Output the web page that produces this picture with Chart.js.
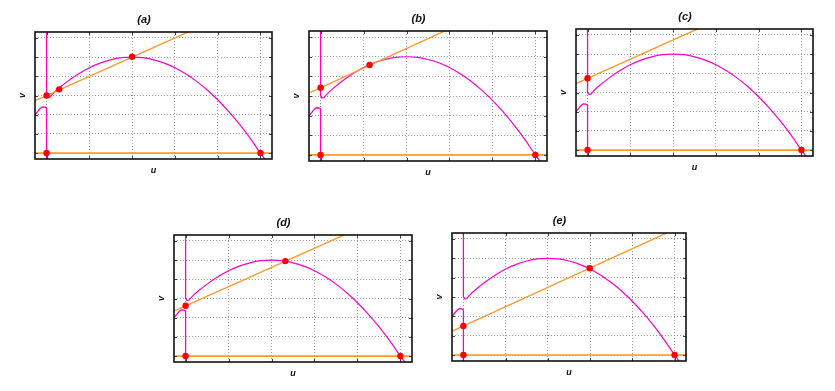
<!DOCTYPE html>
<html lang="en">
<head>
<meta charset="UTF-8" />
<title>Nullclines (a)-(e)</title>
<script src="https://cdn.jsdelivr.net/npm/chart.js"></script>
<style>
  body {
    margin: 0;
    background: #fff;
    width: 835px;
    height: 391px;
    overflow: hidden;
    position: relative;
  }
  canvas {
    position: absolute;
  }
</style>
</head>
<body>
<canvas id="pa"></canvas>
<canvas id="pb"></canvas>
<canvas id="pc"></canvas>
<canvas id="pd"></canvas>
<canvas id="pe"></canvas>
<script>
const panelNames = ['(a)', '(b)', '(c)', '(d)', '(e)'];
const uTicks = [0, 0.2, 0.4, 0.6, 0.8, 1.0];
const vTicks = [0, 0.1, 0.2, 0.3, 0.4, 0.5, 0.6];

// magenta nullcline (same in every panel)
const humpU = [0.015, 0.03, 0.06, 0.1, 0.15, 0.2, 0.25, 0.3, 0.35, 0.4, 0.45, 0.5, 0.55, 0.6, 0.65, 0.7, 0.75, 0.8, 0.85, 0.9, 0.95, 1.0, 1.03];
const humpV = [0.29, 0.31, 0.34, 0.375, 0.413, 0.445, 0.469, 0.486, 0.497, 0.5, 0.497, 0.486, 0.469, 0.445, 0.413, 0.375, 0.33, 0.278, 0.219, 0.153, 0.08, 0, -0.045];
const upperBranch = [[0, 0.7], [0, 0.302], [0.005, 0.291], [0.015, 0.29]];
const lowerBranch = [[-0.06, 0.19], [-0.045, 0.212], [-0.03, 0.232], [-0.02, 0.24], [-0.008, 0.239], [0, 0.234], [0, -0.05]];

// orange nullclines
const baseLine = [[-0.06, 0], [1.06, 0]];
const slopeLines = [
  [[-0.06, 0.27], [0.67, 0.635]],
  [[-0.06, 0.312], [0.6, 0.642]],
  [[-0.06, 0.344], [0.53, 0.639]],
  [[-0.06, 0.232], [0.75, 0.637]],
  [[-0.06, 0.12], [0.97, 0.635]]
];

// equilibria (red dots)
const equilibria = [
  [[0, 0.3], [0.059, 0.332], [0.4, 0.502], [0, 0], [1, 0]],
  [[0, 0.342], [0.228, 0.458], [0, 0], [1, 0]],
  [[0, 0.374], [0, 0], [1, 0]],
  [[0, 0.262], [0.464, 0.495], [0, 0], [1, 0]],
  [[0, 0.15], [0.598, 0.449], [0, 0], [1, 0]]
];

// plot boxes on the page: left, top, width, height
const boxes = [
  [35, 32, 238, 127],
  [309, 31, 239, 130],
  [576, 29, 238, 127],
  [174, 235, 239, 127],
  [452, 233, 235, 128]
];

const MAGENTA = '#ff00cc';
const ORANGE = '#ff9a2e';
const pts = (arr) => arr.map(([x, y]) => ({ x, y }));

const framePlugin = {
  id: 'frame',
  afterDraw(chart) {
    const { ctx, chartArea: a, scales } = chart;
    ctx.save();
    ctx.strokeStyle = '#444';
    ctx.lineWidth = 1;
    ctx.beginPath();
    uTicks.forEach((t) => {
      const x = Math.round(scales.x.getPixelForValue(t)) + 0.5;
      ctx.moveTo(x, a.top); ctx.lineTo(x, a.top + 3);
      ctx.moveTo(x, a.bottom); ctx.lineTo(x, a.bottom - 3);
    });
    vTicks.forEach((t) => {
      const y = Math.round(scales.y.getPixelForValue(t)) + 0.5;
      ctx.moveTo(a.left, y); ctx.lineTo(a.left + 3, y);
      ctx.moveTo(a.right, y); ctx.lineTo(a.right - 3, y);
    });
    ctx.stroke();
    ctx.strokeStyle = '#111';
    ctx.lineWidth = 1.6;
    ctx.strokeRect(a.left, a.top, a.right - a.left, a.bottom - a.top);
    ctx.restore();
  }
};

function makeChart(i) {
  const [L, T, W, H] = boxes[i];
  const canvas = document.getElementById('p' + 'abcde'[i]);
  canvas.width = W + 23;
  canvas.height = H + 47;
  canvas.style.left = (L - 20) + 'px';
  canvas.style.top = (T - 25) + 'px';

  const humpPts = humpU.map((u, k) => ({ x: u, y: humpV[k] }));
  const line = (data, color, width, extra) => Object.assign({
    data, showLine: true, pointRadius: 0, borderColor: color, borderWidth: width,
    backgroundColor: color, tension: 0
  }, extra || {});

  return new Chart(canvas.getContext('2d'), {
    type: 'scatter',
    data: {
      datasets: [
        { data: pts(equilibria[i]), pointRadius: 3.2, pointBackgroundColor: '#ff0000', pointBorderColor: '#ff1a1a', pointBorderWidth: 0, showLine: false },
        line(pts(slopeLines[i]), ORANGE, 1.4),
        line(pts(baseLine), ORANGE, 1.7),
        line(humpPts, MAGENTA, 1.2, { cubicInterpolationMode: 'monotone' }),
        line(pts(upperBranch), MAGENTA, 1.3),
        line(pts(lowerBranch), MAGENTA, 1.3)
      ]
    },
    options: {
      responsive: false,
      animation: false,
      events: [],
      layout: { padding: { left: 0, top: 0, right: 3, bottom: 0 } },
      plugins: {
        legend: { display: false },
        tooltip: { enabled: false },
        title: {
          display: true,
          text: panelNames[i],
          color: '#111',
          font: { family: 'Liberation Sans', size: 11, weight: 'bold', style: 'italic' },
          padding: { top: 6.4, bottom: 5.4 }
        }
      },
      scales: {
        x: {
          type: 'linear',
          min: -0.054,
          max: 1.054,
          afterBuildTicks: (s) => { s.ticks = uTicks.map((v) => ({ value: v })); },
          ticks: { display: false },
          grid: { color: '#9a9a9a', lineWidth: 1, drawTicks: false },
          border: { display: false, dash: [1, 2] },
          title: {
            display: true, text: 'u', color: '#111',
            font: { family: 'Liberation Sans', size: 9, weight: 'bold', style: 'italic' },
            padding: { top: 6.6, bottom: 4.6 }
          }
        },
        y: {
          type: 'linear',
          min: -0.031,
          max: 0.631,
          afterBuildTicks: (s) => { s.ticks = vTicks.map((v) => ({ value: v })); },
          ticks: { display: false },
          grid: { color: '#9a9a9a', lineWidth: 1, drawTicks: false },
          border: { display: false, dash: [1, 2] },
          title: {
            display: true, text: 'v', color: '#111',
            font: { family: 'Liberation Sans', size: 9, weight: 'bold', style: 'italic' },
            padding: { top: 2.1, bottom: 7.1 }
          }
        }
      }
    },
    plugins: [framePlugin]
  });
}

panelNames.forEach((_, i) => makeChart(i));
</script>
</body>
</html>
